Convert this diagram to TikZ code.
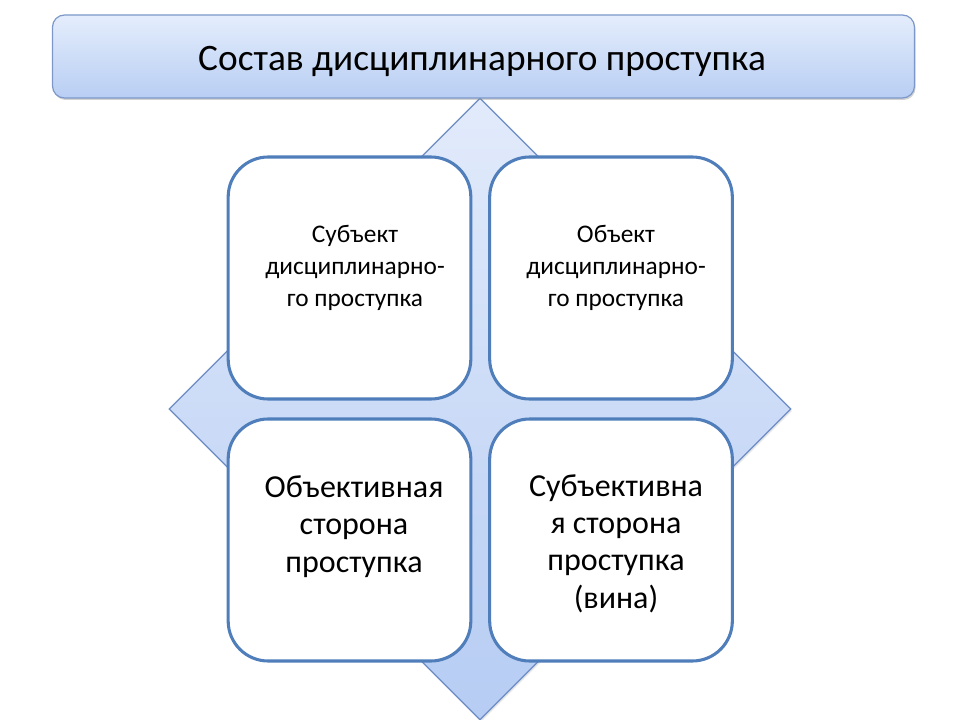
\documentclass[tikz,border=0pt]{standalone}
\usepackage{fontspec}
\setmainfont{Carlito}
\usetikzlibrary{shapes.geometric,shadows}
\definecolor{boxline}{RGB}{79,126,187}
\definecolor{titleline}{RGB}{125,152,200}
\definecolor{titletop}{RGB}{228,237,252}
\definecolor{titlebot}{RGB}{184,206,243}
\definecolor{diatop}{RGB}{226,235,251}
\definecolor{diabot}{RGB}{182,204,243}
\definecolor{dialine}{RGB}{108,140,196}
\tikzset{
  titlebox/.style={rectangle, rounded corners=9pt, draw=titleline, line width=0.9pt,
    top color=titletop, bottom color=titlebot, minimum width=646.5pt, minimum height=62.25pt,
    inner sep=0pt, drop shadow={opacity=0.35, shadow xshift=0.8pt, shadow yshift=-1.5pt}},
  diabox/.style={diamond, aspect=1, draw=dialine, line width=0.9pt, top color=diatop,
    bottom color=diabot, minimum size=466.5pt, inner sep=0pt,
    drop shadow={opacity=0.2, shadow xshift=0.8pt, shadow yshift=-1.5pt}},
  cardbox/.style={rectangle, rounded corners=30pt, draw=boxline, line width=2.3pt, fill=white,
    minimum width=182pt, minimum height=181.5pt, inner sep=0pt},
  smalltxt/.style={align=center, font=\fontsize{19pt}{24pt}\selectfont, anchor=base},
  bigtxt/.style={align=center, font=\fontsize{24pt}{28pt}\selectfont, anchor=base},
}
\begin{document}
\begin{tikzpicture}[x=0.75pt, y=-0.75pt]
\useasboundingbox (0,0) rectangle (960,720);
\node[diabox] (dia) at (480,409) {};
\node[titlebox] (title) at (483.5,56.5) {};
\node[anchor=base, font=\fontsize{28pt}{34pt}\selectfont] (titletxt) at (482,71) {Состав дисциплинарного проступка};
\node[cardbox] (tl) at (349.5,278) {};
\node[cardbox] (tr) at (611,278) {};
\node[cardbox] (bl) at (349.5,540) {};
\node[cardbox] (br) at (611,540) {};
\node[smalltxt] (tltxt) at (355,306) {Субъект\\дисциплинарно-\\го проступка};
\node[smalltxt] (trtxt) at (616,306) {Объект\\дисциплинарно-\\го проступка};
\node[bigtxt] (bltxt) at (354,572) {Объективная\\сторона\\проступка};
\node[bigtxt] (brtxt) at (616,608) {Субъективна\\я сторона\\проступка\\(вина)};
\end{tikzpicture}
\end{document}
